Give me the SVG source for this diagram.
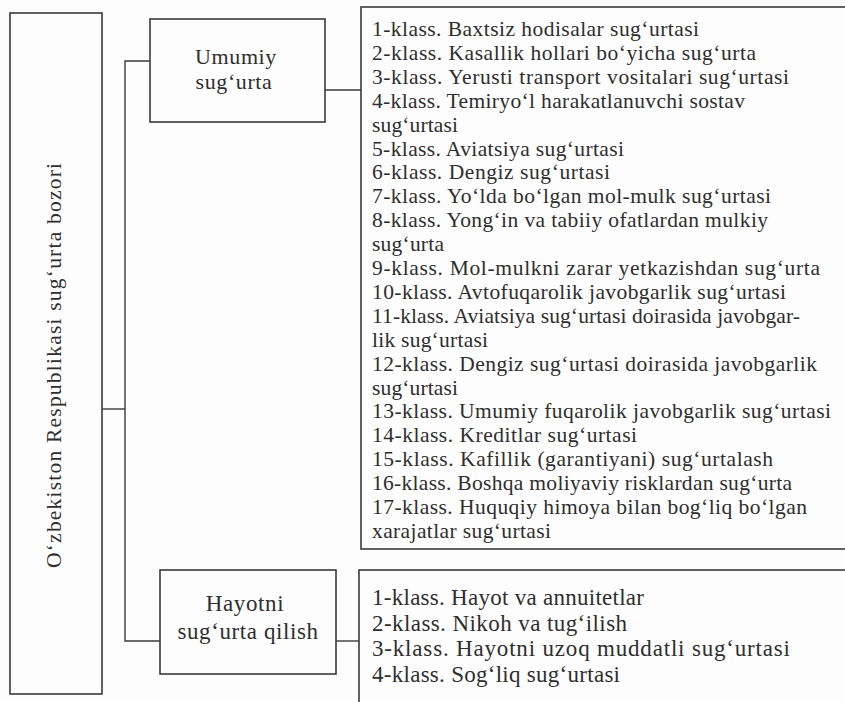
<svg xmlns="http://www.w3.org/2000/svg" width="845" height="702" viewBox="0 0 845 702">
<style>
.box{fill:none;stroke:#3a3a3a;stroke-width:1.6}
.con{fill:none;stroke:#3a3a3a;stroke-width:1.4}
.t{font-family:"Liberation Serif","Times New Roman",serif;font-size:21.5px;fill:#2e2e2e}
.b{font-size:23px}
.c{text-anchor:middle;letter-spacing:0.6px}
</style>
<rect width="845" height="702" fill="#fdfdfd"/>
<g id="connectors">
<polyline class="con" points="150,61 125,61 125,641 160,641"/>
<line class="con" x1="102" y1="409" x2="125" y2="409"/>
<line class="con" x1="325" y1="90" x2="361" y2="90"/>
<line class="con" x1="336" y1="641" x2="359" y2="641"/>
</g>
<g id="root">
<rect class="box" x="10" y="13" width="92" height="681"/>
<text class="t" x="-568" y="61" transform="rotate(-90)" textLength="405">O‘zbekiston Respublikasi sug‘urta bozori</text>
</g>
<g id="umumiy">
<rect class="box" x="150" y="19" width="175" height="103"/>
<text class="t c" x="236" y="64" style="font-size:22px">Umumiy</text>
<text class="t c" x="234" y="89" style="font-size:22px">sug‘urta</text>
</g>
<g id="hayotni">
<rect class="box" x="160" y="570" width="176" height="104"/>
<text class="t c b" x="245" y="611">Hayotni</text>
<text class="t c b" x="248" y="639">sug‘urta qilish</text>
</g>
<g id="umumiy-list">
<rect class="box" x="361" y="7" width="500" height="542"/>
<text class="t" x="372" y="36" textLength="327">1-klass. Baxtsiz hodisalar sug‘urtasi</text>
<text class="t" x="372" y="59.9" textLength="384">2-klass. Kasallik hollari bo‘yicha sug‘urta</text>
<text class="t" x="372" y="83.8" textLength="417">3-klass. Yerusti transport vositalari sug‘urtasi</text>
<text class="t" x="372" y="107.7" textLength="373">4-klass. Temiryo‘l harakatlanuvchi sostav</text>
<text class="t" x="372" y="131.6" textLength="86">sug‘urtasi</text>
<text class="t" x="372" y="155.5" textLength="252">5-klass. Aviatsiya sug‘urtasi</text>
<text class="t" x="372" y="179.4" textLength="238">6-klass. Dengiz sug‘urtasi</text>
<text class="t" x="372" y="203.3" textLength="399">7-klass. Yo‘lda bo‘lgan mol-mulk sug‘urtasi</text>
<text class="t" x="372" y="227.2" textLength="396">8-klass. Yong‘in va tabiiy ofatlardan mulkiy</text>
<text class="t" x="372" y="251.1" textLength="72">sug‘urta</text>
<text class="t" x="372" y="275" textLength="448">9-klass. Mol-mulkni zarar yetkazishdan sug‘urta</text>
<text class="t" x="372" y="298.9" textLength="414">10-klass. Avtofuqarolik javobgarlik sug‘urtasi</text>
<text class="t" x="372" y="322.8" textLength="428">11-klass. Aviatsiya sug‘urtasi doirasida javobgar-</text>
<text class="t" x="372" y="346.7" textLength="116">lik sug‘urtasi</text>
<text class="t" x="372" y="370.6" textLength="445">12-klass. Dengiz sug‘urtasi doirasida javobgarlik</text>
<text class="t" x="372" y="394.5" textLength="86">sug‘urtasi</text>
<text class="t" x="372" y="418.4" textLength="459">13-klass. Umumiy fuqarolik javobgarlik sug‘urtasi</text>
<text class="t" x="372" y="442.3" textLength="265">14-klass. Kreditlar sug‘urtasi</text>
<text class="t" x="372" y="466.2" textLength="401">15-klass. Kafillik (garantiyani) sug‘urtalash</text>
<text class="t" x="372" y="490.1" textLength="420">16-klass. Boshqa moliyaviy risklardan sug‘urta</text>
<text class="t" x="372" y="514" textLength="435">17-klass. Huquqiy himoya bilan bog‘liq bo‘lgan</text>
<text class="t" x="372" y="537.9" textLength="179">xarajatlar sug‘urtasi</text>
</g>
<g id="hayot-list">
<rect class="box" x="359" y="570" width="500" height="150"/>
<text class="t b" x="372" y="605" textLength="272">1-klass. Hayot va annuitetlar</text>
<text class="t b" x="372" y="630.5" textLength="255">2-klass. Nikoh va tug‘ilish</text>
<text class="t b" x="372" y="656" textLength="418">3-klass. Hayotni uzoq muddatli sug‘urtasi</text>
<text class="t b" x="372" y="681.5" textLength="248">4-klass. Sog‘liq sug‘urtasi</text>
</g>
</svg>
